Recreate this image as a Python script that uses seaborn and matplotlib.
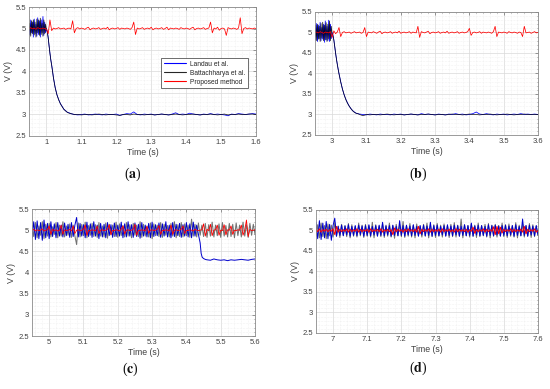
import numpy as np
import matplotlib
matplotlib.use("Agg")
import matplotlib.pyplot as plt
from matplotlib.ticker import AutoMinorLocator
import seaborn as sns

# ---------------- data ----------------
# Panel (a): 0.95 - 1.6 s
a_pre_t = [0.95, 1.0]           # start / end of pre-step window (21 samples)
a_blue_pre = [5.05, 4.85, 5.2, 4.9, 5.15, 4.8, 5.22, 4.88, 5.1, 4.82, 5.25, 4.86, 5.18, 4.8, 5.2, 4.9, 5.28, 4.84, 5.15, 4.9, 5.0]
a_black_pre = [4.95, 5.12, 4.82, 5.18, 4.88, 5.2, 4.85, 5.15, 4.8, 5.22, 4.9, 5.2, 4.84, 5.24, 4.86, 5.12, 4.82, 5.2, 4.88, 5.1, 4.98]
a_decay_t = [1.0025, 1.005, 1.0075, 1.01, 1.0125, 1.015, 1.0175, 1.02, 1.025, 1.03, 1.035, 1.04, 1.045, 1.05, 1.055, 1.06, 1.065, 1.07, 1.075, 1.08]
a_blue_decay = [4.92, 4.79, 4.6, 4.43, 4.27, 4.15, 4.01, 3.86, 3.63, 3.46, 3.35, 3.25, 3.19, 3.12, 3.09, 3.05, 3.04, 3.02, 3.01, 3.0]
a_black_decay = [4.93, 4.78, 4.6, 4.42, 4.27, 4.14, 4.0, 3.85, 3.62, 3.46, 3.34, 3.25, 3.18, 3.12, 3.08, 3.05, 3.03, 3.02, 3.01, 3.0]
a_tail_t = [1.09, 1.6]          # 52 samples
a_blue_tail = [2.99, 3.0, 3.01, 2.99, 3.0, 3.01, 3.0, 2.99, 3.01, 3.0,
               3.0, 3.01, 2.98, 3.0, 3.02, 3.01, 3.06, 3.0, 2.99, 3.01,
               3.0, 3.01, 2.99, 3.0, 3.01, 3.0, 2.99, 3.01, 3.04, 3.0,
               3.01, 3.0, 3.03, 3.01, 3.0, 2.99, 3.01, 3.0, 3.02, 3.0,
               3.01, 3.0, 2.99, 2.97, 3.01, 3.0, 3.02, 3.01, 3.0, 3.01, 3.02, 3.01]
a_black_tail = [3.0, 2.99, 3.0, 3.0, 2.99, 3.0, 3.01, 3.0, 2.99, 3.0,
                3.0, 2.99, 2.98, 3.0, 3.0, 2.99, 3.01, 3.0, 3.0, 2.99,
                3.0, 3.0, 2.99, 3.0, 3.01, 3.0, 2.99, 3.0, 3.01, 3.0,
                2.99, 3.0, 3.0, 3.01, 3.0, 2.99, 3.0, 3.0, 3.01, 3.0,
                2.99, 3.0, 3.01, 2.99, 3.0, 3.0, 3.01, 3.0, 3.0, 3.01, 3.01, 3.0]
a_red_t = [0.95, 1.6]           # 131 samples
a_red = [5.0, 5.02, 4.99, 5.01, 4.98, 5.02, 5.0, 4.99, 5.01, 5.0, 4.98,
         4.88, 5.2, 4.95,
         5.01, 4.99, 5.0, 5.02, 4.99, 5.0, 5.01, 4.98, 5.0, 5.01, 4.99,
         5.18, 4.9,
         5.0, 5.02, 4.99, 5.01, 5.0, 4.98, 5.01, 5.03, 4.97, 5.0, 5.01, 4.99, 5.0, 5.02, 4.98, 5.0, 5.01,
         4.99, 5.03, 4.97, 5.0, 5.01, 4.99, 5.0, 5.02, 4.98, 5.01, 5.0, 4.99, 5.01, 5.0, 4.98, 5.02,
         5.15, 4.86,
         5.01, 4.99, 5.0, 5.02, 4.98, 5.0, 5.01, 4.99, 5.03, 4.97, 5.0, 5.01, 4.99, 5.0, 5.02, 4.98,
         5.0, 5.03, 4.97, 5.01, 5.0, 4.99, 5.01, 5.0, 4.98, 5.02, 5.0, 4.99, 5.01, 5.0, 4.98, 5.01,
         5.03, 4.97, 5.0, 5.01, 4.99, 5.0, 5.02, 4.98, 5.0, 5.01,
         5.15, 4.9,
         5.01, 4.99, 5.03, 4.96, 5.0, 5.01, 4.99,
         4.84,
         5.02, 5.0, 4.99, 5.01, 5.0, 4.98, 5.01,
         5.25, 4.88,
         5.0, 5.02, 4.99, 5.01, 5.0, 4.99, 5.01, 5.0]

# Panel (b): 2.95 - 3.6 s
b_pre_t = [2.95, 3.0]
b_blue_pre = [5.1, 4.82, 5.22, 4.78, 5.18, 4.85, 5.25, 4.8, 5.12, 4.84, 5.2, 4.76, 5.28, 4.82, 5.15, 4.8, 5.3, 4.78, 5.2, 4.85, 5.0]
b_black_pre = [4.9, 5.18, 4.8, 5.2, 4.84, 5.15, 4.78, 5.22, 4.86, 5.25, 4.8, 5.18, 4.82, 5.24, 4.78, 5.2, 4.84, 5.28, 4.8, 5.15, 4.96]
b_decay_t = [3.0025, 3.005, 3.0075, 3.01, 3.0125, 3.015, 3.0175, 3.02, 3.025, 3.03, 3.035, 3.04, 3.045, 3.05, 3.055, 3.06, 3.065, 3.07, 3.075, 3.08]
b_blue_decay = [4.93, 4.82, 4.66, 4.5, 4.36, 4.23, 4.11, 4.0, 3.8, 3.62, 3.48, 3.37, 3.28, 3.2, 3.14, 3.09, 3.06, 3.03, 3.02, 3.01]
b_black_decay = [4.92, 4.81, 4.66, 4.5, 4.35, 4.22, 4.1, 3.99, 3.79, 3.62, 3.48, 3.36, 3.27, 3.2, 3.14, 3.09, 3.05, 3.03, 3.02, 3.0]
b_tail_t = [3.09, 3.6]
b_blue_tail = [3.0, 2.99, 3.01, 3.0, 2.99, 3.01, 3.0, 3.0, 2.99, 3.01,
               3.0, 3.01, 2.99, 3.0, 3.01, 3.0, 2.99, 3.02, 3.0, 3.01,
               3.0, 2.99, 3.01, 3.0, 2.99, 3.01, 3.0, 3.02, 3.0, 3.01,
               2.99, 3.0, 3.02, 3.06, 3.01, 3.0, 3.02, 3.0, 2.99, 3.01,
               3.0, 3.01, 2.99, 3.0, 3.01, 3.0, 3.02, 3.0, 3.01, 3.0, 3.01, 3.0]
b_black_tail = [2.97, 3.0, 2.99, 3.0, 3.0, 2.99, 3.0, 3.01, 3.0, 2.99,
                3.0, 3.0, 2.99, 3.0, 3.01, 3.0, 2.99, 3.0, 3.0, 3.01,
                3.0, 2.99, 3.0, 3.0, 2.99, 3.0, 3.01, 3.0, 3.0, 2.99,
                3.0, 3.01, 3.0, 3.0, 2.99, 3.0, 3.0, 3.01, 3.0, 2.99,
                3.0, 3.0, 3.01, 3.0, 2.99, 3.0, 3.0, 3.01, 3.0, 3.0, 3.0, 3.0]
b_red_t = [2.95, 3.6]
b_red = [5.0, 5.01, 4.99, 5.02, 5.0, 4.98, 5.01, 5.0, 4.99, 5.02,
         4.88, 5.04, 4.97, 5.01, 5.12, 4.9, 5.0, 5.02, 4.99, 5.0,
         5.01, 4.98, 5.0, 5.02, 4.99, 5.0, 5.01, 4.98, 5.0, 5.12,
         4.9, 5.01, 5.0, 4.99, 5.02, 5.0, 4.98, 5.01, 5.03, 4.97,
         5.0, 5.01, 4.99, 5.0, 5.02, 4.98, 5.0, 5.01, 4.99, 5.03,
         4.98, 5.0, 5.01, 4.99, 5.0, 5.02, 4.98, 5.01, 5.0, 4.99,
         5.15, 4.88, 5.02, 5.0, 4.99, 5.01, 5.03, 4.97, 5.0, 5.01,
         4.99, 5.0, 5.02, 4.98, 5.0, 5.01, 4.99, 5.03, 4.98, 5.0,
         5.01, 4.99, 5.0, 5.02, 4.98, 5.0, 5.01, 4.99, 5.0, 5.02,
         5.1, 4.93, 5.0, 5.01, 4.99, 5.0, 5.02, 4.98, 5.01, 5.0,
         4.99, 5.01, 5.0, 4.98, 5.02, 5.15, 4.9, 5.01, 5.0, 4.99,
         5.01, 5.0, 4.98, 5.02, 5.0, 4.99, 5.01, 5.0, 4.98, 5.01,
         5.0, 4.9, 5.15, 4.99, 5.0, 5.01, 4.98, 5.0, 5.02, 4.99, 5.0]

# Panel (c): 4.95 - 5.6 s
c_t = [4.95, 5.6]               # 131 samples
c_black = [5.12, 4.85, 5.18, 4.82, 5.1, 4.88, 5.2, 4.8, 5.14, 4.86,
           5.16, 4.84, 5.08, 4.9, 5.18, 4.82, 5.12, 4.86, 5.2, 4.84,
           5.1, 4.88, 5.15, 4.83, 5.12, 4.86, 4.66, 5.17, 4.84, 5.14,
           4.87, 5.19, 4.82, 5.11, 4.88, 5.16, 4.85, 5.13, 4.83, 5.18,
           4.86, 5.1, 4.84, 5.17, 4.81, 5.14, 4.89, 5.12, 4.85, 5.19,
           4.83, 5.15, 4.87, 5.11, 4.84, 5.18, 4.86, 5.13, 4.82, 5.16,
           4.88, 5.12, 4.85, 5.2, 4.83, 5.14, 4.86, 5.1, 4.84, 5.17,
           4.8, 5.15, 4.87, 5.12, 4.85, 5.18, 4.83, 5.14, 4.88, 5.11,
           4.84, 5.16, 4.86, 5.2, 4.82, 5.13, 4.85, 5.18, 4.84, 5.15,
           4.87, 5.12, 4.83, 5.26, 4.86, 5.14, 4.84, 5.17, 4.88, 5.12,
           4.85, 5.16, 4.83, 5.13, 4.86, 5.19, 4.84, 5.12, 4.87, 5.15,
           4.83, 5.18, 4.86, 5.11, 4.84, 5.16, 4.85, 5.14, 4.82, 5.17,
           4.87, 5.12, 4.84, 5.19, 4.86, 5.13, 4.83, 5.16, 4.88, 5.14, 4.9]
c_blue_t = [4.95, 5.435]        # 98 samples
c_blue = [4.82, 5.2, 4.78, 5.22, 4.8, 5.18, 4.76, 5.24, 4.82, 5.16,
          4.8, 5.2, 4.85, 5.15, 4.82, 5.18, 4.86, 5.12, 4.84, 5.17,
          4.87, 5.14, 4.83, 5.18, 4.85, 5.12, 5.3, 4.84, 5.16, 4.86,
          5.13, 4.82, 5.19, 4.85, 5.15, 4.83, 5.2, 4.86, 5.12, 4.8,
          5.16, 4.84, 5.14, 4.82, 5.18, 4.87, 5.13, 4.83, 5.17, 4.85,
          5.12, 4.86, 5.19, 4.82, 5.15, 4.84, 5.2, 4.86, 5.13, 4.83,
          5.17, 4.85, 5.14, 4.81, 5.18, 4.86, 5.12, 4.84, 5.16, 4.82,
          5.19, 4.85, 5.13, 4.87, 5.17, 4.83, 5.15, 4.86, 5.2, 4.84,
          5.12, 4.82, 5.18, 4.85, 5.14, 4.87, 5.16, 4.83, 5.13, 4.86,
          5.18, 4.84, 5.15, 4.82, 5.19, 4.86, 5.12, 4.9]
c_blue_drop_t = [5.44, 5.443, 5.446, 5.45, 5.455, 5.46, 5.47, 5.48, 5.49, 5.5, 5.51, 5.52, 5.53, 5.54, 5.55, 5.56, 5.57, 5.58, 5.59, 5.6]
c_blue_drop = [4.7, 4.45, 4.36, 4.33, 4.31, 4.3, 4.29, 4.32, 4.3, 4.29, 4.3, 4.28, 4.3, 4.29, 4.3, 4.31, 4.3, 4.29, 4.31, 4.32]
c_red = [5.0, 5.02, 4.98, 5.01, 4.99, 5.0, 5.03, 4.98, 5.0, 5.01,
         5.1, 4.9, 5.02, 4.99, 5.01, 4.98, 5.0, 5.12, 4.9, 5.01,
         4.99, 5.0, 5.02, 4.98, 5.1, 4.92, 5.0, 5.01, 4.99, 5.0,
         5.02, 5.12, 4.88, 5.0, 4.99, 5.01, 5.0, 4.98, 5.1, 4.92,
         5.0, 5.01, 4.99, 5.0, 5.02, 5.13, 4.89, 5.0, 4.99, 5.01,
         5.0, 4.98, 5.02, 5.1, 4.91, 5.0, 5.01, 4.99, 5.0, 5.02,
         5.14, 4.88, 5.0, 4.99, 5.01, 5.0, 4.98, 5.09, 4.93, 5.0,
         5.01, 4.99, 5.0, 5.02, 5.11, 4.9, 5.0, 4.99, 5.01, 5.0,
         4.98, 5.12, 4.9, 5.0, 5.01, 4.99, 5.0, 5.02, 5.1, 4.92,
         5.0, 4.99, 5.01, 5.0, 4.98, 5.02, 5.0, 4.99, 5.0, 5.01,
         5.15, 4.86, 5.02, 4.99, 5.14, 4.87, 5.0, 5.01, 5.12, 4.88,
         5.0, 4.99, 5.13, 4.89, 5.01, 5.0, 5.1, 4.9, 5.0, 4.99,
         5.01, 5.0, 5.12, 4.88, 5.0, 5.24, 4.85, 5.02, 4.99, 5.0, 5.01]

# Panel (d): 6.95 - 7.6 s
d_t = [6.95, 7.6]               # 131 samples
d_black = [4.86, 5.14, 4.82, 5.18, 4.85, 5.12, 4.8, 5.16, 4.87, 5.13,
           4.84, 5.19, 4.86, 5.11, 4.83, 5.15, 4.88, 5.12, 4.85, 5.17,
           4.82, 5.14, 4.86, 5.1, 4.84, 5.18, 4.87, 5.13, 4.83, 5.15,
           4.86, 5.12, 4.84, 5.2, 4.82, 5.14, 4.87, 5.11, 4.85, 5.16,
           4.83, 5.13, 4.86, 5.18, 4.84, 5.12, 4.81, 5.15, 4.87, 5.14,
           4.85, 5.22, 4.83, 5.12, 4.86, 5.17, 4.84, 5.13, 4.82, 5.16,
           4.87, 5.11, 4.84, 5.15, 4.86, 5.18, 4.82, 5.12, 4.85, 5.14,
           4.83, 5.17, 4.86, 5.13, 4.84, 5.16, 4.87, 5.12, 4.83, 5.15,
           4.85, 5.19, 4.84, 5.13, 4.86, 5.28, 4.82, 5.14, 4.87, 5.12,
           4.84, 5.16, 4.86, 5.13, 4.83, 5.18, 4.85, 5.12, 4.87, 5.15,
           4.84, 5.17, 4.82, 5.13, 4.86, 5.15, 4.84, 5.12, 4.87, 5.18,
           4.85, 5.14, 4.83, 5.16, 4.86, 5.12, 4.84, 5.19, 4.82, 5.13,
           4.87, 5.15, 4.84, 5.12, 4.86, 5.17, 4.83, 5.14, 4.85, 5.11, 4.88]
d_blue = [5.2, 4.8, 5.24, 4.78, 5.18, 4.82, 5.22, 4.8, 5.15, 4.76,
          5.12, 5.3, 4.86, 5.1, 4.88, 5.13, 4.87, 5.11, 4.89, 5.14,
          4.86, 5.1, 4.88, 5.12, 4.87, 5.13, 4.9, 5.11, 4.86, 5.12,
          4.88, 5.14, 4.87, 5.1, 4.89, 5.12, 4.86, 5.13, 4.88, 5.2,
          4.87, 5.11, 4.89, 5.12, 4.86, 5.13, 4.88, 5.1, 4.87, 5.24,
          4.88, 5.12, 4.86, 5.13, 4.89, 5.11, 4.87, 5.14, 4.88, 5.1,
          4.86, 5.12, 4.89, 5.13, 4.87, 5.11, 4.88, 5.2, 4.86, 5.12,
          4.88, 5.13, 4.87, 5.1, 4.89, 5.12, 4.86, 5.14, 4.88, 5.11,
          4.87, 5.13, 4.89, 5.12, 4.86, 5.11, 4.88, 5.14, 4.87, 5.12,
          4.88, 5.18, 4.86, 5.11, 4.89, 5.13, 4.87, 5.12, 4.88, 5.1,
          4.86, 5.14, 4.88, 5.12, 4.87, 5.13, 4.89, 5.11, 4.86, 5.12,
          4.88, 5.13, 4.87, 5.11, 4.89, 5.12, 4.86, 5.14, 4.88, 5.1,
          4.87, 5.28, 4.88, 5.12, 4.86, 5.13, 4.89, 5.11, 4.87, 5.12, 4.9]
d_red = [5.03, 4.97, 5.04, 4.96, 5.02, 4.98, 5.03, 4.97, 5.02, 4.98,
         5.04, 4.9, 5.1, 4.96, 5.03, 4.97, 5.02, 4.98, 5.04, 4.96,
         5.03, 4.97, 5.02, 4.98, 5.04, 4.96, 5.03, 4.97, 5.02, 4.98,
         5.03, 4.96, 5.04, 4.97, 5.02, 4.98, 5.03, 4.97, 5.04, 4.96,
         5.02, 4.98, 5.03, 4.97, 5.02, 4.9, 5.06, 4.97, 5.03, 4.98,
         5.02, 4.96, 5.03, 4.97, 5.04, 4.98, 5.02, 4.97, 5.03, 4.96,
         5.1, 4.92, 5.03, 4.97, 5.02, 4.98, 5.04, 4.96, 5.03, 4.97,
         5.02, 4.98, 5.03, 4.96, 5.04, 4.97, 5.02, 4.98, 5.03, 4.97,
         5.02, 4.96, 5.04, 4.97, 5.03, 4.98, 5.02, 4.97, 5.03, 4.96,
         5.02, 4.98, 5.08, 4.93, 5.03, 4.97, 5.02, 4.98, 5.04, 4.96,
         5.03, 4.97, 5.02, 4.98, 5.09, 4.9, 5.1, 4.92, 5.08, 4.94,
         5.03, 4.97, 5.02, 4.98, 5.04, 4.96, 5.03, 4.97, 5.02, 4.98,
         5.03, 4.96, 5.1, 4.92, 5.03, 4.97, 5.02, 4.98, 5.04, 4.96, 5.0]

x_ticks_a = [1, 1.1, 1.2, 1.3, 1.4, 1.5, 1.6]
x_ticks_b = [3, 3.1, 3.2, 3.3, 3.4, 3.5, 3.6]
x_ticks_c = [5, 5.1, 5.2, 5.3, 5.4, 5.5, 5.6]
x_ticks_d = [7, 7.1, 7.2, 7.3, 7.4, 7.5, 7.6]
y_ticks = [2.5, 3, 3.5, 4, 4.5, 5, 5.5]
series_names = ["Landau et al.", "Battachharya et al.", "Proposed method"]
panel_labels = ["a", "b", "c", "d"]

# ---------------- style ----------------
sns.set_style("white")
plt.rcParams["font.family"] = ["Liberation Sans", "DejaVu Sans"]
plt.rcParams["mathtext.fontset"] = "stix"

BLUE, BLACK, RED = "#0000ff", "#000000", "#ff0000"


def tgrid(span, vals):
    return np.linspace(span[0], span[1], len(vals))


def draw(ax, x, y, color, lw=0.55, label=None, alpha=1.0):
    sns.lineplot(x=np.asarray(x), y=np.asarray(y), ax=ax, color=color, linewidth=lw,
                 estimator=None, sort=False, legend=False, label=label, alpha=alpha)


def style_axes(ax, xlim, xticks):
    ax.set_xlim(*xlim)
    ax.set_ylim(2.5, 5.5)
    ax.set_xticks(xticks)
    ax.set_xticklabels([f"{v:g}" for v in xticks])
    ax.set_yticks(y_ticks)
    ax.set_yticklabels([f"{v:g}" for v in y_ticks])
    ax.xaxis.set_minor_locator(AutoMinorLocator(5))
    ax.yaxis.set_minor_locator(AutoMinorLocator(5))
    ax.grid(True, which="major", color="#d9d9d9", linewidth=0.5, linestyle="-")
    ax.grid(True, which="minor", color="#e8e8e8", linewidth=0.4, linestyle=":")
    ax.set_axisbelow(True)
    ax.tick_params(which="both", direction="in", top=True, right=True,
                   labelsize=5.5, labelcolor="#404040", color="#555555",
                   width=0.4, pad=2)
    ax.tick_params(which="major", length=2)
    ax.tick_params(which="minor", length=1)
    for s in ax.spines.values():
        s.set_color("#8a8a8a")
        s.set_linewidth(0.6)
    ax.set_xlabel("Time (s)", fontsize=6.3, color="#404040", labelpad=1.5)
    ax.set_ylabel("V (V)", fontsize=6.3, color="#404040", labelpad=2)


fig = plt.figure(figsize=(5.5, 3.89), dpi=100)
ax_a = fig.add_axes([0.0527, 0.6504, 0.4127, 0.3316])
ax_b = fig.add_axes([0.5727, 0.6530, 0.4055, 0.3162])
ax_c = fig.add_axes([0.0582, 0.1362, 0.4055, 0.3265])
ax_d = fig.add_axes([0.5745, 0.1440, 0.4036, 0.3162])

# (a)
draw(ax_a, list(tgrid(a_pre_t, a_blue_pre)) + a_decay_t + list(tgrid(a_tail_t, a_blue_tail)),
     a_blue_pre + a_blue_decay + a_blue_tail, BLUE, label=series_names[0])
draw(ax_a, list(tgrid(a_pre_t, a_black_pre)) + a_decay_t + list(tgrid(a_tail_t, a_black_tail)),
     a_black_pre + a_black_decay + a_black_tail, BLACK, label=series_names[1], alpha=0.85)
draw(ax_a, tgrid(a_red_t, a_red), a_red, RED, label=series_names[2])
style_axes(ax_a, (0.95, 1.6), x_ticks_a)
leg = ax_a.legend(loc="upper right", bbox_to_anchor=(0.978, 0.63), fontsize=4.8,
                  frameon=True, fancybox=False, framealpha=1, edgecolor="#333333",
                  handlelength=3.3, borderpad=0.4, labelspacing=0.3, handletextpad=0.6)
leg.get_frame().set_linewidth(0.5)
for h in leg.get_lines():
    h.set_linewidth(0.8)

# (b)
draw(ax_b, list(tgrid(b_pre_t, b_blue_pre)) + b_decay_t + list(tgrid(b_tail_t, b_blue_tail)),
     b_blue_pre + b_blue_decay + b_blue_tail, BLUE)
draw(ax_b, list(tgrid(b_pre_t, b_black_pre)) + b_decay_t + list(tgrid(b_tail_t, b_black_tail)),
     b_black_pre + b_black_decay + b_black_tail, BLACK, alpha=0.85)
draw(ax_b, tgrid(b_red_t, b_red), b_red, RED)
style_axes(ax_b, (2.95, 3.6), x_ticks_b)

# (c)
draw(ax_c, tgrid(c_t, c_black), c_black, BLACK, lw=0.75, alpha=0.55)
draw(ax_c, list(tgrid(c_blue_t, c_blue)) + c_blue_drop_t, c_blue + c_blue_drop, "#0000cc", lw=0.7)
draw(ax_c, tgrid(c_t, c_red), c_red, RED, lw=0.6)
style_axes(ax_c, (4.95, 5.6), x_ticks_c)

# (d)
draw(ax_d, tgrid(d_t, d_black), d_black, BLACK, lw=0.75, alpha=0.55)
draw(ax_d, tgrid(d_t, d_blue), d_blue, "#0000cc", lw=0.7)
draw(ax_d, tgrid(d_t, d_red), d_red, RED, lw=0.7)
style_axes(ax_d, (6.95, 7.6), x_ticks_d)

# panel labels
label_pos = [(133 / 550, 1 - 174 / 389), (418 / 550, 1 - 174 / 389),
             (130 / 550, 1 - 369 / 389), (418 / 550, 1 - 368 / 389)]
for lab, (px, py) in zip(panel_labels, label_pos):
    fig.text(px, py, "(" + r"$\mathbf{" + lab + "}$" + ")", ha="center", va="center",
             fontsize=10, family="Liberation Serif", color="#111111")

fig.savefig("out.png", dpi=100)
